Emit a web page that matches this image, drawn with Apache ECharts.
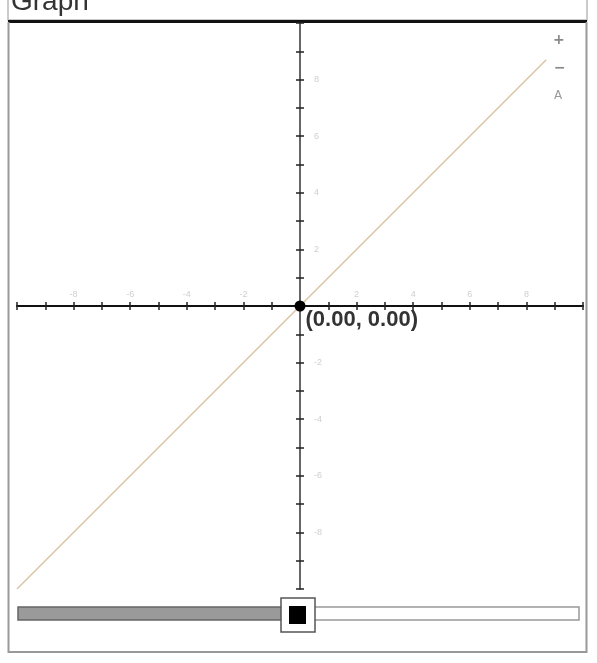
<!DOCTYPE html>
<html>
<head>
<meta charset="utf-8">
<script src="https://cdn.jsdelivr.net/npm/echarts@6/dist/echarts.min.js"></script>
<style>
  html, body { margin: 0; padding: 0; background: #fff; }
  #main { width: 597px; height: 663px; }
</style>
</head>
<body>
<div id="main"></div>
<script>
// 坐标范围和刻度
const axisMin = -10;
const axisMax = 10;
const tickStep = 1;
const tickLabels = [-8, -6, -4, -2, 2, 4, 6, 8];

// 直线 y = x
const lineX = [-10, 8.7];
const lineY = [-10, 8.7];

// 原点
const pointX = 0;
const pointY = 0;
const pointLabel = '(0.00, 0.00)';

const chart = echarts.init(document.getElementById('main'), null, { renderer: 'canvas' });

const labelFmt = (v) => tickLabels.includes(v) ? String(v) : '';
const hidden = { axisLine: { show: false }, axisTick: { show: false }, axisLabel: { show: false }, splitLine: { show: false } };
const tickStyle = { color: '#222', width: 1.5 };

chart.setOption({
    animation: false,
    backgroundColor: '#fff',
    grid: [
        { left: 17, top: 23, width: 566, height: 566 },   // 主坐标
        { left: 17, top: 23, width: 566, height: 283 },   // 上半部分: x轴标签和向上的刻度
        { left: 300, top: 23, width: 283, height: 566 }   // 右半部分: y轴标签和向右的刻度
    ],
    xAxis: [{
        gridIndex: 0, type: 'value', min: axisMin, max: axisMax, interval: tickStep,
        axisLine: { onZero: true, lineStyle: { color: '#111', width: 2 } },
        axisTick: { inside: false, length: 4, lineStyle: tickStyle },
        axisLabel: { show: false },
        splitLine: { show: false }
    }, {
        gridIndex: 1, type: 'value', min: axisMin, max: axisMax, interval: tickStep, position: 'bottom',
        axisLine: { show: false, onZero: false },
        axisTick: { show: true, inside: true, length: 4, lineStyle: tickStyle },
        splitLine: { show: false },
        axisLabel: { inside: true, margin: 7, color: '#cfcfcf', fontSize: 9, formatter: labelFmt }
    }, {
        gridIndex: 2, type: 'value', min: 0, max: axisMax, ...hidden
    }],
    yAxis: [{
        gridIndex: 0, type: 'value', min: axisMin, max: axisMax, interval: tickStep,
        axisLine: { onZero: true, lineStyle: { color: '#333', width: 1.5 } },
        axisTick: { inside: false, length: 4, lineStyle: tickStyle },
        axisLabel: { show: false },
        splitLine: { show: false }
    }, {
        gridIndex: 1, type: 'value', min: 0, max: axisMax, ...hidden
    }, {
        gridIndex: 2, type: 'value', min: axisMin, max: axisMax, interval: tickStep, position: 'left',
        axisLine: { show: false, onZero: false },
        axisTick: { show: true, inside: true, length: 4, lineStyle: tickStyle },
        splitLine: { show: false },
        axisLabel: { inside: true, margin: 14, color: '#cfcfcf', fontSize: 9, formatter: labelFmt }
    }],
    series: [{
        type: 'line',
        data: lineX.map((x, i) => [x, lineY[i]]),
        showSymbol: false,
        lineStyle: { color: '#dcc4a4', width: 1.5 },
        z: 3
    }, {
        type: 'scatter',
        data: [[pointX, pointY]],
        symbolSize: 11,
        itemStyle: { color: '#000', opacity: 1 },
        label: {
            show: true, position: [11, 8], formatter: pointLabel,
            color: '#333', fontSize: 22, fontWeight: 'bold', fontFamily: 'Liberation Sans, Arial, sans-serif'
        },
        z: 5
    }],
    graphic: [
        // 标题栏
        { type: 'rect', shape: { x: 8, y: -2, width: 579, height: 22 }, style: { fill: '#fff', stroke: '#bbb', lineWidth: 1.5 } },
        { type: 'text', x: 11, y: 16, style: { text: 'Graph', font: '28px Liberation Sans, Arial, sans-serif', fill: '#333', verticalAlign: 'bottom' } },
        { type: 'rect', shape: { x: 8, y: 20, width: 579, height: 3 }, style: { fill: '#111' } },
        // 外框
        { type: 'polyline', shape: { points: [[8.5, 22], [8.5, 652], [586.5, 652], [586.5, 22]] }, style: { fill: null, stroke: '#999', lineWidth: 2 } },
        // 缩放按钮
        { type: 'text', x: 553, y: 33, style: { text: '+', font: 'bold 14px DejaVu Sans', fill: '#888' } },
        { type: 'text', x: 554, y: 61, style: { text: '−', font: 'bold 14px DejaVu Sans', fill: '#888' } },
        { type: 'text', x: 554, y: 90, style: { text: 'A', font: '12px DejaVu Sans', fill: '#999' } },
        // 滑块
        { type: 'rect', shape: { x: 18, y: 607, width: 268, height: 13 }, style: { fill: '#9a9a9a', stroke: '#666', lineWidth: 1.5 } },
        { type: 'rect', shape: { x: 314, y: 607, width: 265, height: 13 }, style: { fill: '#fff', stroke: '#999', lineWidth: 1.5 } },
        { type: 'rect', shape: { x: 281, y: 598, width: 34, height: 34 }, style: { fill: '#fff', stroke: '#555', lineWidth: 1.5 } },
        { type: 'rect', shape: { x: 289, y: 606, width: 17, height: 18 }, style: { fill: '#000' } }
    ]
});
</script>
</body>
</html>
